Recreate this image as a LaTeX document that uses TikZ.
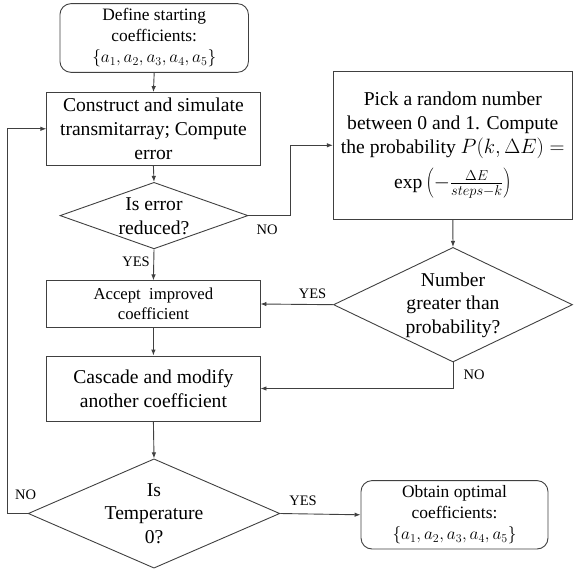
\documentclass[tikz,border=0pt]{standalone}
\usepackage{fontspec}
\setmainfont{Liberation Serif}
\usetikzlibrary{shapes.geometric,arrows.meta}
\definecolor{ln}{HTML}{404040}
\begin{document}
\begin{tikzpicture}[x=1pt,y=-1pt,
  box/.style={draw=ln,line width=0.9pt,inner sep=1pt,align=center,fill=white},
  rbox/.style={box,rounded corners=11pt},
  big/.style={font=\fontsize{19.6}{23.6}\selectfont},
  mid/.style={font=\fontsize{17.4}{21}\selectfont},
  sml/.style={font=\fontsize{16.7}{20}\selectfont},
  dia/.style={draw=ln,line width=0.9pt,diamond,inner sep=0pt},
  dtext/.style={big,align=center,inner sep=0pt},
  arr/.style={draw=ln,line width=0.9pt,-{Latex[length=6pt,width=4.5pt]}},
  lab/.style={font=\fontsize{14.5}{17}\selectfont,inner sep=0pt}]
\useasboundingbox (0,0) rectangle (573,578);

% nodes
\node[rbox,mid,minimum width=188.5pt,minimum height=68.7pt] (start) at (154.2,38)
  {Define starting\\coefficients:\\$\{a_1,a_2,a_3,a_4,a_5\}$};
\node[box,big,minimum width=213.2pt,minimum height=72.5pt] (construct) at (153.4,128.8)
  {Construct and simulate\\transmitarray; Compute\\error};
\node[dia,minimum width=188pt,minimum height=66.5pt] (err) at (154,215.6) {};
\node[dtext] (errt) at (154,216.5) {Is error\\reduced?};
\node[box,sml,minimum width=213.2pt,minimum height=46.3pt] (accept) at (153.4,304)
  {Accept\ \ improved\\coefficient};
\node[box,big,minimum width=213.2pt,minimum height=65pt] (cascade) at (153.4,388.5)
  {Cascade and modify\\another coefficient};
\node[dia,minimum width=251.6pt,minimum height=109.3pt] (temp) at (154,513.5) {};
\node[dtext] (tempt) at (154,513.5) {Is\\Temperature\\0?};
\node[box,big,minimum width=239pt,minimum height=147.4pt] (pick) at (452.8,145.3)
  {Pick a random number\\between 0 and 1. Compute\\the probability\ $P(k,\Delta E)=$\\[9pt]$\exp\left(-\frac{\Delta E}{steps-k}\right)$};
\node[dia,minimum width=239pt,minimum height=114.6pt] (num) at (453,304.7) {};
\node[dtext] (numt) at (453,305) {Number\\greater than\\probability?};
\node[rbox,mid,minimum width=187pt,minimum height=68.4pt] (obtain) at (454.5,514.8)
  {Obtain optimal\\coefficients:\\$\{a_1,a_2,a_3,a_4,a_5\}$};

\coordinate (c1) at (290.6,0);
\coordinate (lp) at (7.3,0);

% connectors
\draw[arr] (start.south) -- (construct.north);
\draw[arr] (construct.south) -- (err.north);
\draw[arr] (err.east) -- (err.east -| c1) |- (pick.west);
\draw[arr] (err.south) -- (accept.north);
\draw[arr] (accept.south) -- (cascade.north);
\draw[arr] (cascade.south) -- (temp.north);
\draw[arr] (pick.south) -- (num.north);
\draw[arr] (num.west) -- (accept.east);
\draw[arr] (num.south) |- (cascade.east);
\draw[arr] (temp.west) -- (temp.west -| lp) |- (construct.west);
\draw[arr] (temp.east) -- (obtain.west);

% labels
\node[lab] (no1) at (267,229.5) {NO};
\node[lab] (yes1) at (136,262) {YES};
\node[lab] (yes2) at (312.5,294) {YES};
\node[lab] (no2) at (474,374.6) {NO};
\node[lab] (no3) at (25.6,495) {NO};
\node[lab] (yes3) at (303,500.7) {YES};
\end{tikzpicture}
\end{document}
